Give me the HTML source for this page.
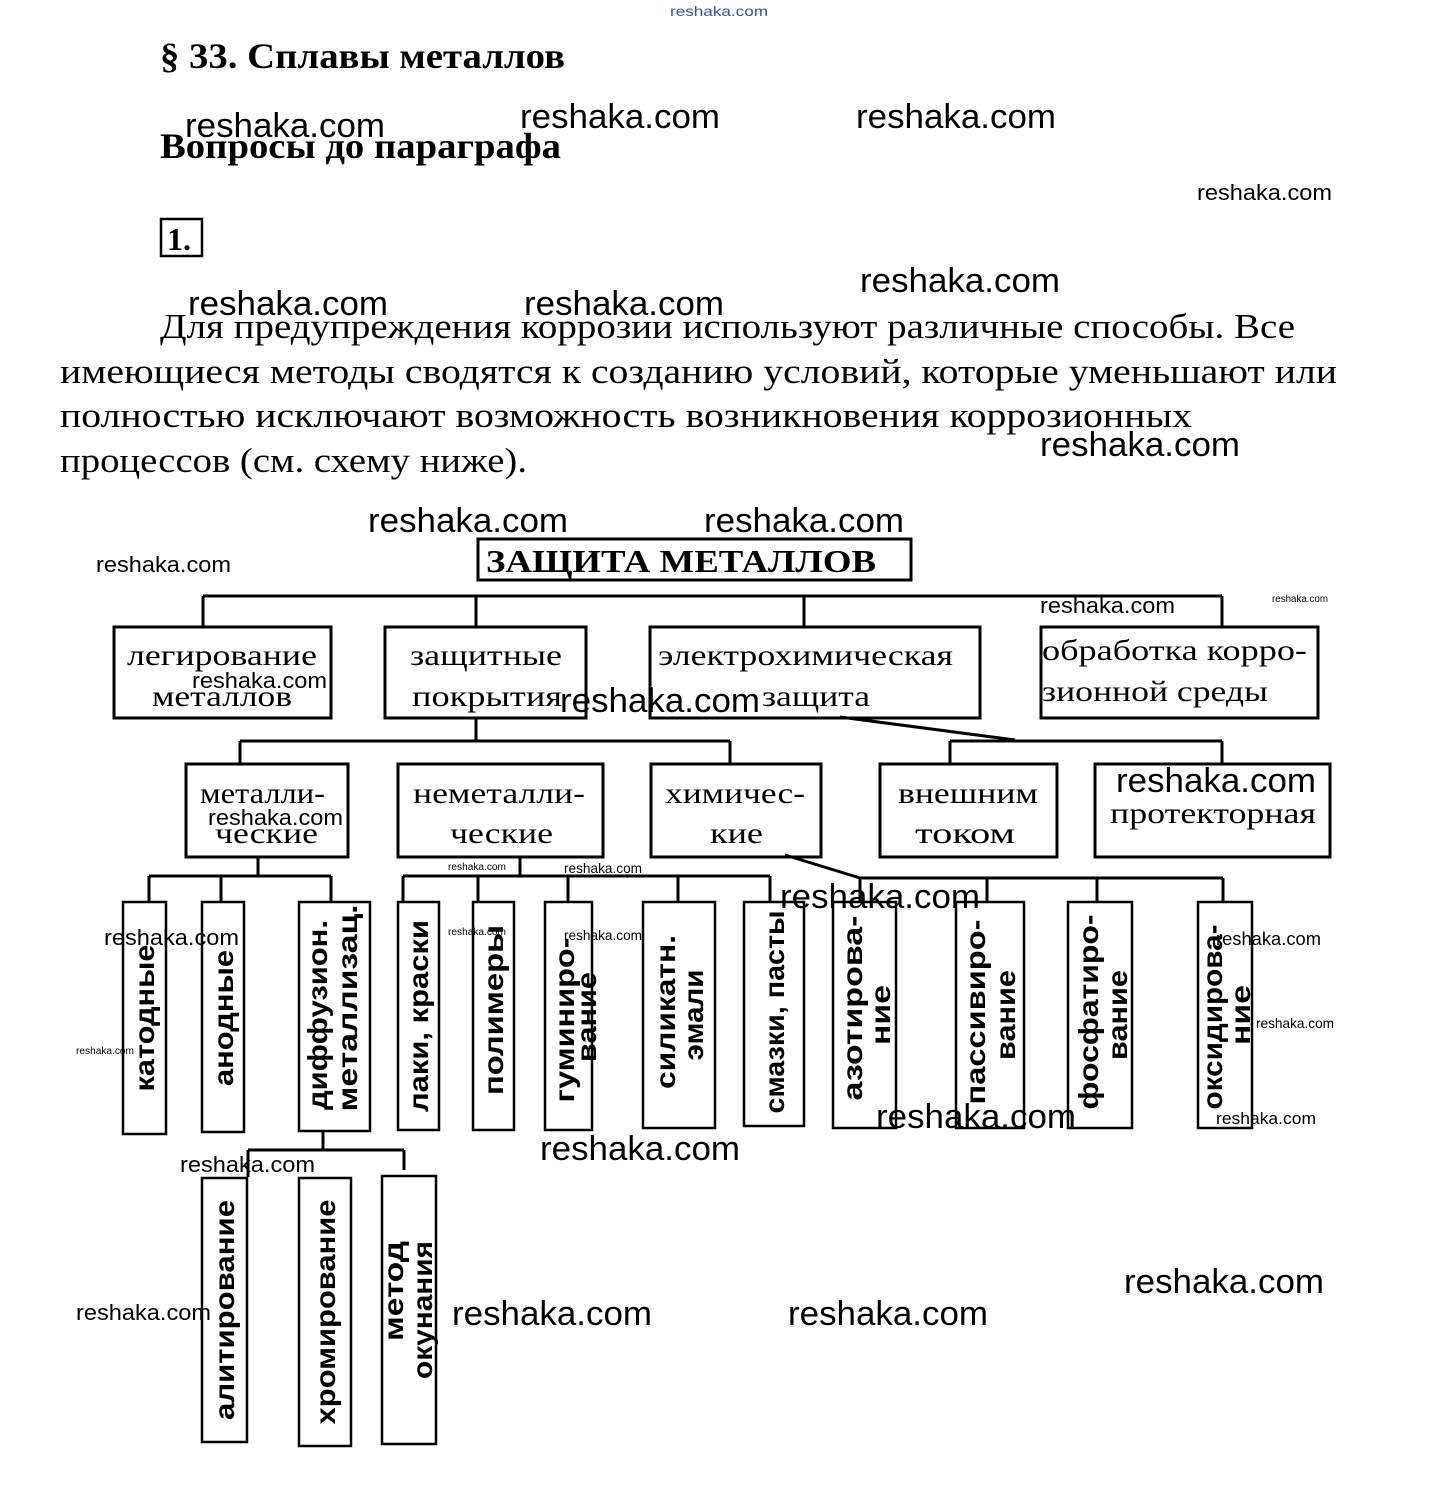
<!DOCTYPE html>
<html><head><meta charset="utf-8"><style>
html,body{margin:0;padding:0;background:#fff}
svg{display:block}
.s{font-family:"Liberation Serif",serif}
.w{font-family:"Liberation Sans",sans-serif;fill:#000}
.v{font-family:"Liberation Sans",sans-serif;font-weight:bold;font-size:28px}
</style></head><body>
<svg width="1437" height="1487" viewBox="0 0 1437 1487" xmlns="http://www.w3.org/2000/svg">
<rect width="1437" height="1487" fill="#fff"/>
<text x="670" y="16" font-family="Liberation Sans,sans-serif" font-size="14" fill="#3355aa" textLength="98" lengthAdjust="spacingAndGlyphs">reshaka.com</text>

<g class="s" font-weight="bold" font-size="36">
<text x="160" y="68" textLength="405" lengthAdjust="spacingAndGlyphs">§ 33. Сплавы металлов</text>
<text x="160" y="158" textLength="401" lengthAdjust="spacingAndGlyphs">Вопросы до параграфа</text>
</g>
<rect x="161" y="219" width="41" height="37" fill="none" stroke="#000" stroke-width="2.5"/>
<text x="167" y="250" class="s" font-weight="bold" font-size="32">1.</text>

<g class="s" font-size="35">
<text x="160" y="338" textLength="1135" lengthAdjust="spacingAndGlyphs">Для предупреждения коррозии используют различные способы. Все</text>
<text x="60" y="383" textLength="1277" lengthAdjust="spacingAndGlyphs">имеющиеся методы сводятся к созданию условий,  которые уменьшают  или</text>
<text x="60" y="427" textLength="1132" lengthAdjust="spacingAndGlyphs">полностью  исключают  возможность возникновения коррозионных</text>
<text x="60" y="472" textLength="467" lengthAdjust="spacingAndGlyphs">процессов (см. схему ниже).</text>
</g>

<!-- diagram lines -->
<g stroke="#000" stroke-width="3" fill="none">
<rect x="478" y="539" width="433" height="41"/>
<path d="M203 596H1222M203 596V627M476 596V627M804 596V627M1222 596V627"/>
<rect x="114" y="627" width="217" height="91"/>
<rect x="385" y="627" width="201" height="91"/>
<rect x="650" y="627" width="330" height="91"/>
<rect x="1041" y="627" width="277" height="91"/>
<path d="M476 719V741M240 741H730M240 741V763M730 741V763"/>
<path d="M950 741H1222M950 741V763M1222 741V763M840 717L1015 740"/>
<rect x="186" y="764" width="162" height="93"/>
<rect x="398" y="764" width="205" height="93"/>
<rect x="651" y="764" width="170" height="93"/>
<rect x="880" y="764" width="177" height="93"/>
<rect x="1095" y="764" width="235" height="93"/>
<path d="M258 858V876M149 876H331M149 876V901M221 876V901M331 876V901"/>
<path d="M520 858V876M403 876H770M403 876V901M478 876V901M568 876V901M678 876V901M770 876V901"/>
<path d="M785 855L860 878M860 878H1223M860 878V901M987 878V901M1097 878V901M1223 878V901"/>
<path d="M323 1132V1150M248 1150H404M248 1150V1177M404 1150V1170"/>
</g>
<g stroke="#000" stroke-width="2.5" fill="none">
<rect x="123" y="902" width="43" height="232"/>
<rect x="202" y="902" width="42" height="230"/>
<rect x="299" y="902" width="71" height="229"/>
<rect x="398" y="902" width="41" height="228"/>
<rect x="473" y="902" width="41" height="228"/>
<rect x="545" y="902" width="47" height="228"/>
<rect x="643" y="902" width="72" height="226"/>
<rect x="744" y="902" width="60" height="224"/>
<rect x="833" y="902" width="63" height="226"/>
<rect x="956" y="902" width="68" height="226"/>
<rect x="1068" y="902" width="64" height="226"/>
<rect x="1198" y="902" width="54" height="226"/>
<rect x="202" y="1178" width="45" height="264"/>
<rect x="299" y="1178" width="52" height="268"/>
<rect x="382" y="1176" width="54" height="268"/>
</g>

<text x="486" y="572" class="s" font-weight="bold" font-size="32" textLength="390" lengthAdjust="spacingAndGlyphs">ЗАЩИТА  МЕТАЛЛОВ</text>
<g class="s" font-size="30">
<text x="127" y="665" textLength="190" lengthAdjust="spacingAndGlyphs">легирование</text>
<text x="152" y="706" textLength="140" lengthAdjust="spacingAndGlyphs">металлов</text>
<text x="410" y="665" textLength="152" lengthAdjust="spacingAndGlyphs">защитные</text>
<text x="412" y="706" textLength="150" lengthAdjust="spacingAndGlyphs">покрытия</text>
<text x="658" y="665" textLength="295" lengthAdjust="spacingAndGlyphs">электрохимическая</text>
<text x="762" y="706" textLength="108" lengthAdjust="spacingAndGlyphs">защита</text>
<text x="1042" y="660" textLength="265" lengthAdjust="spacingAndGlyphs">обработка корро-</text>
<text x="1042" y="701" textLength="226" lengthAdjust="spacingAndGlyphs">зионной среды</text>
<text x="200" y="803" textLength="125" lengthAdjust="spacingAndGlyphs">металли-</text>
<text x="215" y="843" textLength="103" lengthAdjust="spacingAndGlyphs">ческие</text>
<text x="413" y="803" textLength="172" lengthAdjust="spacingAndGlyphs">неметалли-</text>
<text x="450" y="843" textLength="103" lengthAdjust="spacingAndGlyphs">ческие</text>
<text x="665" y="803" textLength="140" lengthAdjust="spacingAndGlyphs">химичес-</text>
<text x="710" y="843" textLength="53" lengthAdjust="spacingAndGlyphs">кие</text>
<text x="898" y="803" textLength="140" lengthAdjust="spacingAndGlyphs">внешним</text>
<text x="915" y="843" textLength="100" lengthAdjust="spacingAndGlyphs">током</text>
<text x="1110" y="823" textLength="206" lengthAdjust="spacingAndGlyphs">протекторная</text>
</g>

<!-- vertical labels -->
<g class="v">
<text transform="translate(154,1018) rotate(-90)" text-anchor="middle" textLength="147" lengthAdjust="spacingAndGlyphs">катодные</text>
<text transform="translate(233,1018) rotate(-90)" text-anchor="middle" textLength="136" lengthAdjust="spacingAndGlyphs">анодные</text>
<text transform="translate(327,1015) rotate(-90)" text-anchor="middle" textLength="190" lengthAdjust="spacingAndGlyphs">диффузион.</text>
<text transform="translate(357,1008) rotate(-90)" text-anchor="middle" textLength="207" lengthAdjust="spacingAndGlyphs">металлизац.</text>
<text transform="translate(428,1016) rotate(-90)" text-anchor="middle" textLength="192" lengthAdjust="spacingAndGlyphs">лаки, краски</text>
<text transform="translate(503,1010) rotate(-90)" text-anchor="middle" textLength="170" lengthAdjust="spacingAndGlyphs">полимеры</text>
<text transform="translate(574,1020) rotate(-90)" text-anchor="middle" textLength="165" lengthAdjust="spacingAndGlyphs">гуминиро-</text>
<text transform="translate(596,1017) rotate(-90)" text-anchor="middle" textLength="90" lengthAdjust="spacingAndGlyphs">вание</text>
<text transform="translate(675,1012) rotate(-90)" text-anchor="middle" textLength="154" lengthAdjust="spacingAndGlyphs">силикатн.</text>
<text transform="translate(703,1015) rotate(-90)" text-anchor="middle" textLength="91" lengthAdjust="spacingAndGlyphs">эмали</text>
<text transform="translate(784,1012) rotate(-90)" text-anchor="middle" textLength="203" lengthAdjust="spacingAndGlyphs">смазки, пасты</text>
<text transform="translate(862,1008) rotate(-90)" text-anchor="middle" textLength="185" lengthAdjust="spacingAndGlyphs">азотирова-</text>
<text transform="translate(890,1015) rotate(-90)" text-anchor="middle" textLength="60" lengthAdjust="spacingAndGlyphs">ние</text>
<text transform="translate(985,1012) rotate(-90)" text-anchor="middle" textLength="185" lengthAdjust="spacingAndGlyphs">пассивиро-</text>
<text transform="translate(1015,1015) rotate(-90)" text-anchor="middle" textLength="90" lengthAdjust="spacingAndGlyphs">вание</text>
<text transform="translate(1098,1012) rotate(-90)" text-anchor="middle" textLength="195" lengthAdjust="spacingAndGlyphs">фосфатиро-</text>
<text transform="translate(1127,1015) rotate(-90)" text-anchor="middle" textLength="90" lengthAdjust="spacingAndGlyphs">вание</text>
<text transform="translate(1222,1017) rotate(-90)" text-anchor="middle" textLength="185" lengthAdjust="spacingAndGlyphs">оксидирова-</text>
<text transform="translate(1250,1015) rotate(-90)" text-anchor="middle" textLength="60" lengthAdjust="spacingAndGlyphs">ние</text>
<text transform="translate(234,1310) rotate(-90)" text-anchor="middle" textLength="220" lengthAdjust="spacingAndGlyphs">алитирование</text>
<text transform="translate(335,1312) rotate(-90)" text-anchor="middle" textLength="225" lengthAdjust="spacingAndGlyphs">хромирование</text>
<text transform="translate(403,1291) rotate(-90)" text-anchor="middle" textLength="100" lengthAdjust="spacingAndGlyphs">метод</text>
<text transform="translate(432,1310) rotate(-90)" text-anchor="middle" textLength="138" lengthAdjust="spacingAndGlyphs">окунания</text>
</g>

<!-- watermarks -->
<g class="w">
<text x="185" y="137" font-size="34" textLength="200" lengthAdjust="spacingAndGlyphs">reshaka.com</text>
<text x="520" y="128" font-size="34" textLength="200" lengthAdjust="spacingAndGlyphs">reshaka.com</text>
<text x="856" y="128" font-size="34" textLength="200" lengthAdjust="spacingAndGlyphs">reshaka.com</text>
<text x="1197" y="200" font-size="22" textLength="135" lengthAdjust="spacingAndGlyphs">reshaka.com</text>
<text x="860" y="292" font-size="34" textLength="200" lengthAdjust="spacingAndGlyphs">reshaka.com</text>
<text x="188" y="315" font-size="34" textLength="200" lengthAdjust="spacingAndGlyphs">reshaka.com</text>
<text x="524" y="315" font-size="34" textLength="200" lengthAdjust="spacingAndGlyphs">reshaka.com</text>
<text x="1040" y="456" font-size="34" textLength="200" lengthAdjust="spacingAndGlyphs">reshaka.com</text>
<text x="368" y="532" font-size="34" textLength="200" lengthAdjust="spacingAndGlyphs">reshaka.com</text>
<text x="704" y="532" font-size="34" textLength="200" lengthAdjust="spacingAndGlyphs">reshaka.com</text>
<text x="96" y="572" font-size="22" textLength="135" lengthAdjust="spacingAndGlyphs">reshaka.com</text>
<text x="1040" y="613" font-size="22" textLength="135" lengthAdjust="spacingAndGlyphs">reshaka.com</text>
<text x="1272" y="602" font-size="10" textLength="56" lengthAdjust="spacingAndGlyphs">reshaka.com</text>
<text x="192" y="688" font-size="22" textLength="135" lengthAdjust="spacingAndGlyphs">reshaka.com</text>
<text x="560" y="712" font-size="34" textLength="200" lengthAdjust="spacingAndGlyphs">reshaka.com</text>
<text x="1116" y="792" font-size="34" textLength="200" lengthAdjust="spacingAndGlyphs">reshaka.com</text>
<text x="208" y="825" font-size="22" textLength="135" lengthAdjust="spacingAndGlyphs">reshaka.com</text>
<text x="448" y="870" font-size="10" textLength="58" lengthAdjust="spacingAndGlyphs">reshaka.com</text>
<text x="564" y="873" font-size="14" textLength="78" lengthAdjust="spacingAndGlyphs">reshaka.com</text>
<text x="780" y="908" font-size="34" textLength="200" lengthAdjust="spacingAndGlyphs">reshaka.com</text>
<text x="104" y="945" font-size="22" textLength="135" lengthAdjust="spacingAndGlyphs">reshaka.com</text>
<text x="448" y="935" font-size="10" textLength="58" lengthAdjust="spacingAndGlyphs">reshaka.com</text>
<text x="564" y="940" font-size="14" textLength="78" lengthAdjust="spacingAndGlyphs">reshaka.com</text>
<text x="1216" y="945" font-size="18" textLength="105" lengthAdjust="spacingAndGlyphs">reshaka.com</text>
<text x="76" y="1054" font-size="10" textLength="58" lengthAdjust="spacingAndGlyphs">reshaka.com</text>
<text x="1256" y="1028" font-size="14" textLength="78" lengthAdjust="spacingAndGlyphs">reshaka.com</text>
<text x="876" y="1128" font-size="34" textLength="200" lengthAdjust="spacingAndGlyphs">reshaka.com</text>
<text x="1216" y="1124" font-size="17" textLength="100" lengthAdjust="spacingAndGlyphs">reshaka.com</text>
<text x="540" y="1160" font-size="34" textLength="200" lengthAdjust="spacingAndGlyphs">reshaka.com</text>
<text x="180" y="1172" font-size="22" textLength="135" lengthAdjust="spacingAndGlyphs">reshaka.com</text>
<text x="76" y="1320" font-size="22" textLength="135" lengthAdjust="spacingAndGlyphs">reshaka.com</text>
<text x="452" y="1325" font-size="34" textLength="200" lengthAdjust="spacingAndGlyphs">reshaka.com</text>
<text x="788" y="1325" font-size="34" textLength="200" lengthAdjust="spacingAndGlyphs">reshaka.com</text>
<text x="1124" y="1293" font-size="34" textLength="200" lengthAdjust="spacingAndGlyphs">reshaka.com</text>
</g>
</svg>
</body></html>
